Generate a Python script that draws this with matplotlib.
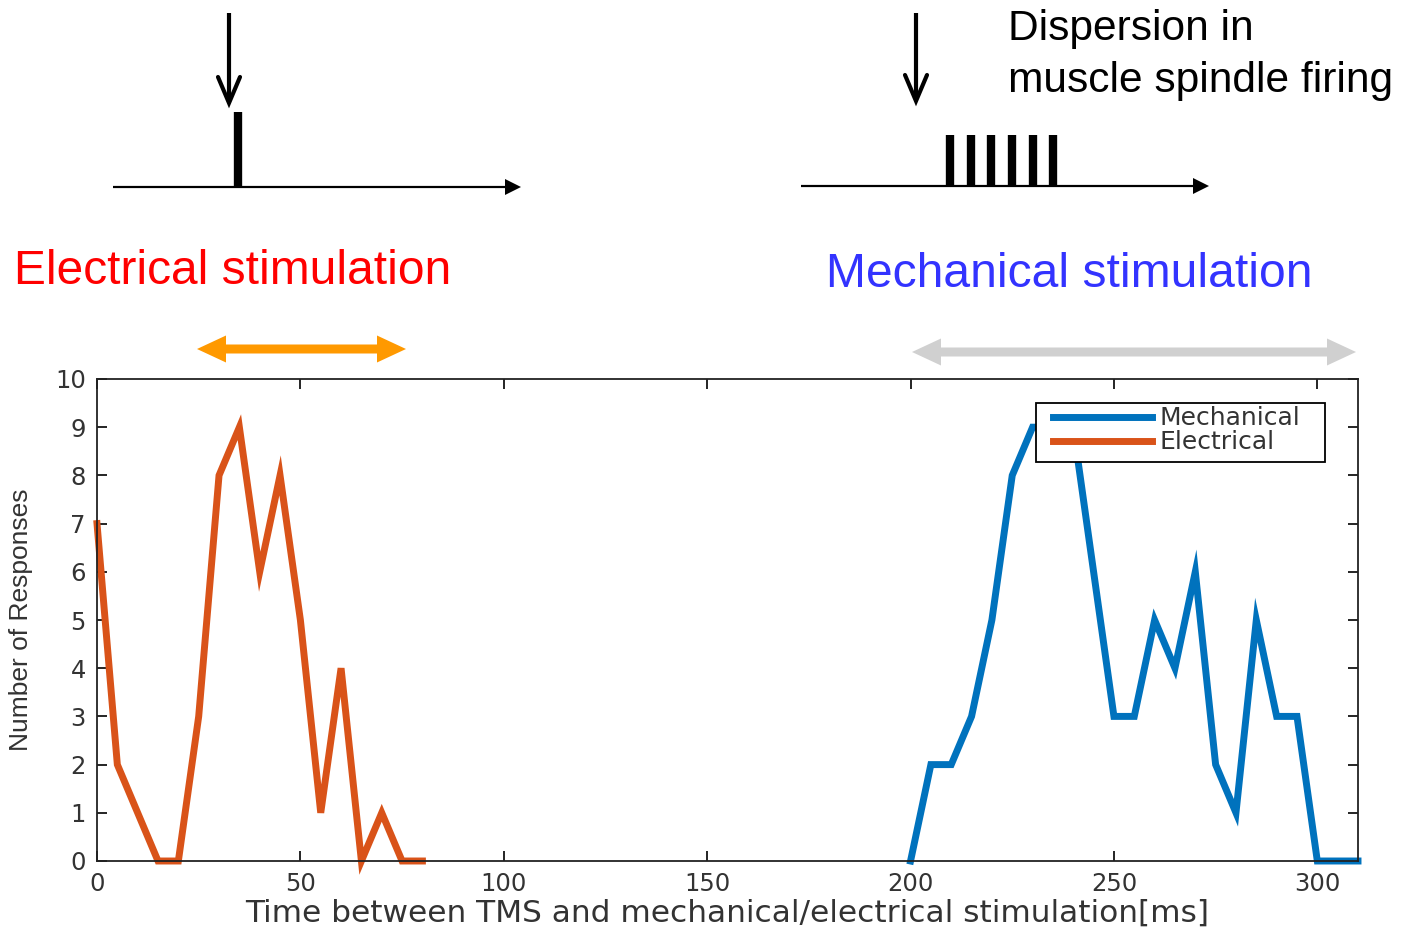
import numpy as np
import matplotlib
matplotlib.use("Agg")
import matplotlib.pyplot as plt
from matplotlib.patches import Polygon, Rectangle

# data (ms, number of responses)
elec_t = [0, 5, 10, 15, 20, 25, 30, 35, 40, 45, 50, 55, 60, 65, 70, 75, 80]
elec_n = [7, 2, 1, 0, 0, 3, 8, 9, 6, 8, 5, 1, 4, 0, 1, 0, 0]
mech_t = [200, 205, 210, 215, 220, 225, 230, 235, 240, 245, 250, 255,
          260, 265, 270, 275, 280, 285, 290, 295, 300, 305, 310]
mech_n = [0, 2, 2, 3, 5, 8, 9, 9, 9, 6, 3, 3, 5, 4, 6, 2, 1, 5, 3, 3, 0, 0, 0]

xticks = [0, 50, 100, 150, 200, 250, 300]
yticks = list(range(11))

W, H = 1402, 927
fig = plt.figure(figsize=(W / 100, H / 100), dpi=100)

# overlay in pixel coordinates for the schematic above the plot
ov = fig.add_axes([0, 0, 1, 1])
ov.set_xlim(0, W)
ov.set_ylim(H, 0)
ov.axis("off")

txt_font = "Liberation Sans"

def timeline(x0, x1, y):
    ov.arrow(x0, y, x1 - x0, 0, width=2.2, head_width=16, head_length=16,
             length_includes_head=True, color="black", lw=0)

def down_arrow(x, y0, y1):
    ov.plot([x, x], [y0, y1 - 2], color="black", lw=3, solid_capstyle="butt")
    ov.plot([x - 11, x, x + 11], [y1 - 26, y1, y1 - 26], color="black", lw=3,
            solid_joinstyle="miter", solid_capstyle="round")

def double_arrow(x0, x1, y, color, w=9, hw=27, hl=29):
    pts = [(x0, y), (x0 + hl, y - hw / 2), (x0 + hl, y - w / 2),
           (x1 - hl, y - w / 2), (x1 - hl, y - hw / 2), (x1, y),
           (x1 - hl, y + hw / 2), (x1 - hl, y + w / 2),
           (x0 + hl, y + w / 2), (x0 + hl, y + hw / 2)]
    ov.add_patch(Polygon(pts, closed=True, color=color, lw=0))

# electrical schematic
timeline(113, 521, 187)
ov.plot([238, 238], [112, 187], color="black", lw=6, solid_capstyle="butt")
down_arrow(229, 13, 103)
ov.text(14, 284, "Electrical stimulation", color="#ff0000", fontsize=34.5,
        family=txt_font, va="baseline", ha="left")
double_arrow(197, 406, 349, "#ff9900")

# mechanical schematic
timeline(801, 1209, 186)
for bx in [950, 971, 991, 1012, 1033, 1053]:
    ov.plot([bx, bx], [135, 186], color="black", lw=6, solid_capstyle="butt")
down_arrow(916, 13, 101)
ov.text(1008, 40, "Dispersion in", color="black", fontsize=30.6,
        family=txt_font, va="baseline", ha="left")
ov.text(1008, 92, "muscle spindle firing", color="black", fontsize=30.6,
        family=txt_font, va="baseline", ha="left")
ov.text(826, 287, "Mechanical stimulation", color="#3333ff", fontsize=34.6,
        family=txt_font, va="baseline", ha="left")
double_arrow(912, 1356, 352, "#d0d0d0")

# the response histogram
ax = fig.add_axes([97 / W, 1 - 861 / H, (1358 - 97) / W, (861 - 379) / H])
ax.patch.set_alpha(0)
ax.plot(mech_t, mech_n, color="#0072bd", lw=5, solid_joinstyle="miter",
        label="Mechanical", clip_on=False)
ax.plot(elec_t, elec_n, color="#d95319", lw=5, solid_joinstyle="miter",
        label="Electrical", clip_on=False)

ax.set_xlim(0, 310)
ax.set_ylim(0, 10)
ax.set_xticks(xticks)
ax.set_yticks(yticks)
ax.tick_params(direction="in", length=7, width=1.2, top=True, right=True,
               labelsize=17.5, labelcolor="#333333", pad=8)
for lab in ax.get_xticklabels() + ax.get_yticklabels():
    lab.set_family("DejaVu Sans")
for sp in ax.spines.values():
    sp.set_linewidth(1.3)
    sp.set_color("#222222")

ax.set_xlabel("Time between TMS and mechanical/electrical stimulation[ms]",
              fontsize=22.5, family="DejaVu Sans", color="#333333", labelpad=2)
ax.set_ylabel("Number of Responses", fontsize=19, family="Liberation Sans",
              color="#333333", labelpad=16)

# legend box drawn by hand so its padding can match the original
ax.add_patch(Rectangle((0.7446, 0.8278), 0.2292, 0.1224, transform=ax.transAxes,
                       facecolor="white", edgecolor="black", lw=1.3,
                       zorder=4, clip_on=False))
leg = ax.legend(loc="upper left", bbox_to_anchor=(0.758, 0.943),
                borderaxespad=0, frameon=False, borderpad=0,
                handlelength=3.95, handletextpad=0.3, labelspacing=0.0,
                prop={"family": "DejaVu Sans", "size": 18})
leg.set_zorder(5)
for t in leg.get_texts():
    t.set_color("#333333")

fig.savefig("out.png", dpi=100)
